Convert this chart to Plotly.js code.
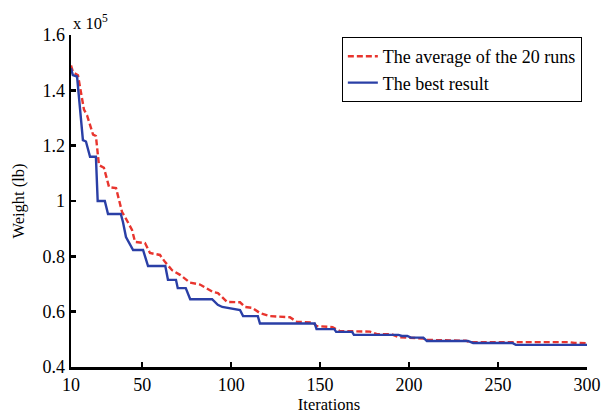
<!DOCTYPE html>
<html>
<head>
<meta charset="utf-8">
<script src="https://cdn.plot.ly/plotly-3.0.1.min.js"></script>
<style>html,body{margin:0;padding:0;background:#fff;}#chart{width:606px;height:417px;}</style>
</head>
<body>
<div id="chart"></div>
<script>
// Values in units of 1e5 lb
const bestIter = [10, 11, 13.4, 16.7, 18.4, 20.7, 24, 25, 29, 30.8, 38, 39.2, 40.9, 44.9, 50.5, 53.3, 63, 64.5, 69, 70, 74.5, 77, 89.3, 92.5, 95, 105, 106.7, 115, 116.2, 147, 148, 158, 159, 168, 169, 194, 196, 199, 201, 208, 210, 233, 236, 258, 260, 300];
const bestWeight = [1.48, 1.455, 1.45, 1.22, 1.215, 1.16, 1.16, 1.0, 1.0, 0.953, 0.953, 0.924, 0.87, 0.823, 0.823, 0.765, 0.765, 0.715, 0.715, 0.685, 0.685, 0.645, 0.645, 0.625, 0.617, 0.606, 0.584, 0.584, 0.557, 0.557, 0.537, 0.537, 0.527, 0.527, 0.516, 0.516, 0.512, 0.512, 0.506, 0.506, 0.494, 0.494, 0.487, 0.487, 0.48, 0.48];

const avgIter = [10, 11.1, 13.9, 17.3, 19, 22.4, 24, 25.7, 28.5, 31.4, 35.3, 36.4, 38.7, 40.4, 44.3, 46, 51.6, 54.4, 60, 62.8, 66.8, 71.3, 76.9, 82.5, 89.8, 92.6, 97.7, 105, 107.8, 111.7, 116.2, 121.9, 127.5, 133, 137, 146, 148, 157, 161, 178, 182, 190, 194, 200, 208, 210, 232, 234, 290, 293, 300];
const avgWeight = [1.49, 1.466, 1.455, 1.33, 1.31, 1.24, 1.235, 1.13, 1.12, 1.05, 1.047, 1.02, 0.96, 0.942, 0.895, 0.852, 0.848, 0.812, 0.805, 0.78, 0.75, 0.733, 0.705, 0.698, 0.671, 0.667, 0.635, 0.634, 0.617, 0.614, 0.595, 0.584, 0.582, 0.58, 0.563, 0.561, 0.548, 0.544, 0.53, 0.528, 0.519, 0.519, 0.508, 0.505, 0.503, 0.498, 0.495, 0.49, 0.49, 0.487, 0.486];

const xTicks = [10, 50, 100, 150, 200, 250, 300];
const yTicks = [0.4, 0.6, 0.8, 1.0, 1.2, 1.4, 1.6];
const yTickText = ['0.4', '0.6', '0.8', '1', '1.2', '1.4', '1.6'];

const fam = 'Liberation Serif, Times New Roman, serif';
const tickFont = {family: fam, size: 18, color: '#000'};
const titleFont = {family: fam, size: 16.5, color: '#000'};
const legendFont = {family: fam, size: 18, color: '#000'};

const traces = [
  {x: avgIter, y: avgWeight, mode: 'lines', name: 'The average of the 20 runs',
   line: {color: '#e8352e', width: 2.4, dash: '6px,3px'}},
  {x: bestIter, y: bestWeight, mode: 'lines', name: 'The best result',
   line: {color: '#2a3fa6', width: 2.4}}
];

const layout = {
  width: 606, height: 417,
  margin: {l: 71, r: 19, t: 35, b: 50},
  paper_bgcolor: '#fff', plot_bgcolor: '#fff',
  font: tickFont,
  showlegend: true,
  legend: {x: 0.99, xanchor: 'right', y: 0.994, yanchor: 'top',
           bordercolor: '#000', borderwidth: 1, bgcolor: '#fff',
           font: legendFont, tracegroupgap: 0, itemwidth: 30},
  xaxis: {range: [10, 300], tickvals: xTicks, ticktext: xTicks.map(String),
          showgrid: false, zeroline: false, showline: true, linecolor: '#000', linewidth: 2.5,
          ticks: 'inside', ticklen: 5, tickwidth: 2.5, tickcolor: '#000',
          tickfont: tickFont, title: {text: 'Iterations', font: titleFont, standoff: 2}},
  yaxis: {range: [0.4, 1.6], tickvals: yTicks, ticktext: yTickText,
          showgrid: false, zeroline: false, showline: true, linecolor: '#000', linewidth: 2.5,
          ticks: 'inside', ticklen: 5, tickwidth: 2.5, tickcolor: '#000',
          tickfont: tickFont, title: {text: 'Weight (lb)', font: titleFont, standoff: 14}},
  annotations: [{xref: 'paper', yref: 'paper', x: 0, y: 1, xanchor: 'left', yanchor: 'bottom',
                 text: 'x 10<sup>5</sup>', showarrow: false, font: {family: fam, size: 16.5, color: '#000'}, yshift: 0}]
};

Plotly.newPlot('chart', traces, layout, {displayModeBar: false, staticPlot: true});
</script>
</body>
</html>
